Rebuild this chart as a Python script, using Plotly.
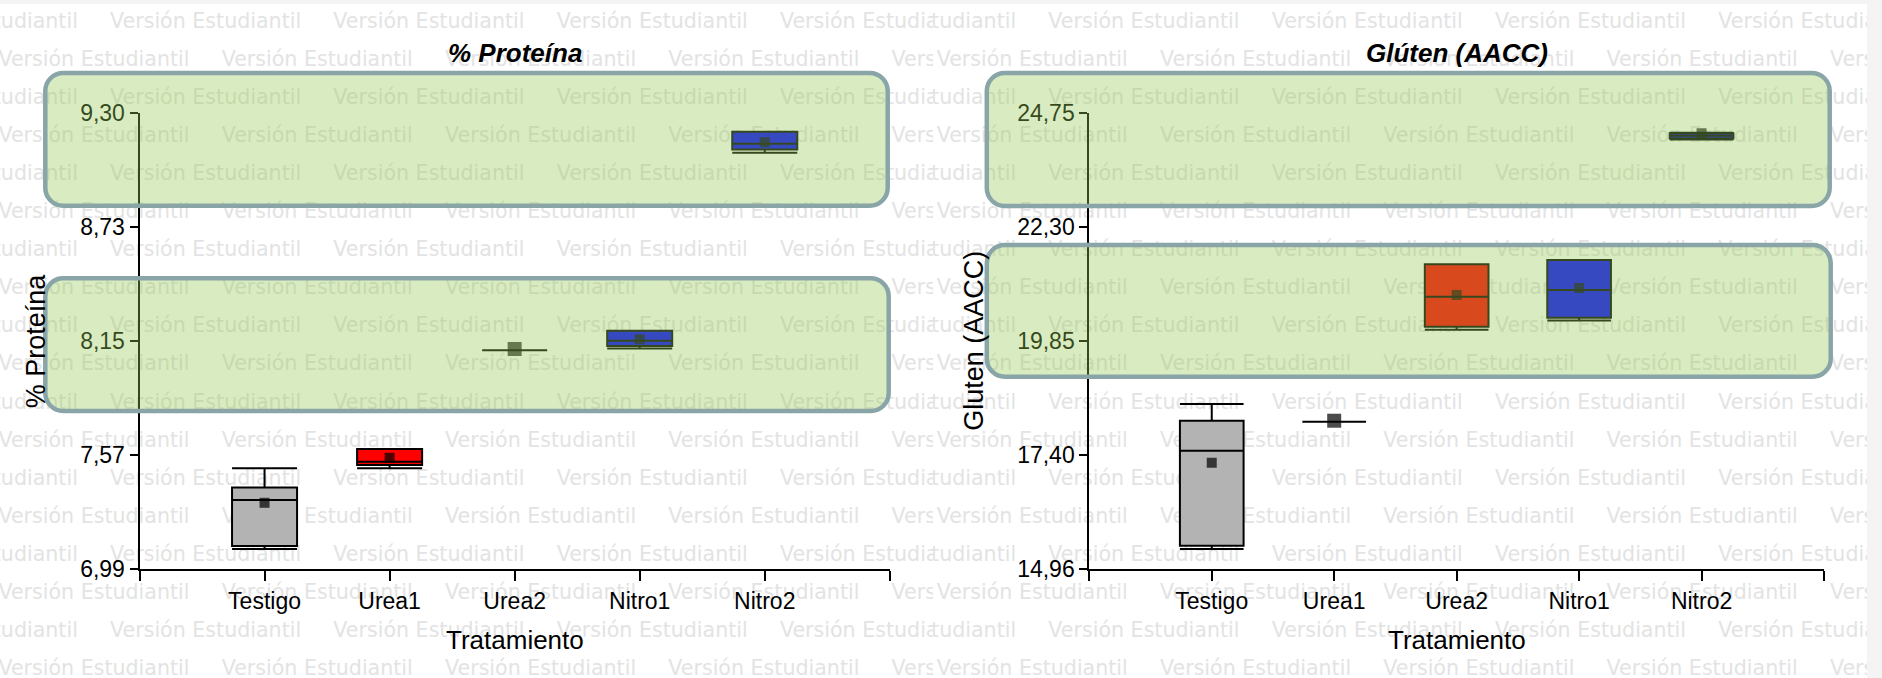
import plotly.graph_objects as go

W, H = 1882, 678

# ---------------- data ----------------
categories = ["Testigo", "Urea1", "Urea2", "Nitro1", "Nitro2"]
cat_pos = [1, 2, 3, 4, 5]
box_fill = ["#B3B3B3", "#FF0000", "#FF0000", "#0000FF", "#0000FF"]

# % Proteína
prot_min = [7.093, 7.502, 8.100, 8.108, 9.100]
prot_q1 = [7.108, 7.518, 8.100, 8.121, 9.116]
prot_med = [7.341, 7.535, 8.100, 8.148, 9.146]
prot_q3 = [7.405, 7.599, 8.100, 8.199, 9.207]
prot_max = [7.502, 7.599, 8.100, 8.199, 9.207]
prot_mean = [7.327, 7.555, 8.106, 8.155, 9.153]
prot_tickvals = [6.99, 7.5675, 8.145, 8.7225, 9.30]
prot_ticktext = ["6,99", "7,57", "8,15", "8,73", "9,30"]

# Gluten (AACC)
glu_min = [15.396, 18.13, 20.104, 20.30, 24.19]
glu_q1 = [15.467, 18.13, 20.169, 20.362, 24.21]
glu_med = [17.507, 18.13, 20.813, 20.957, 24.27]
glu_q3 = [18.15, 18.13, 21.508, 21.60, 24.32]
glu_max = [18.51, 18.13, 21.508, 21.60, 24.33]
glu_mean = [17.25, 18.15, 20.85, 21.00, 24.32]
glu_tickvals = [14.96, 17.4075, 19.855, 22.3025, 24.75]
glu_ticktext = ["14,96", "17,40", "19,85", "22,30", "24,75"]

x_tickvals = [0, 1, 2, 3, 4, 5, 6]
x_ticktext = [""] + categories + [""]

titles = ["% Proteína", "Glúten (AACC)"]
y_titles = ["% Proteína", "Gluten (AACC)"]
x_title = "Tratamiento"
WM_TEXT = "Versión Estudiantil"

# ---------------- helpers ----------------
def px(x):
    return x / W

def py(y):
    return 1 - y / H

SANS = "Liberation Sans, Arial, sans-serif"

fig = go.Figure()

# ---- watermark (drawn first, in its own hidden subplots) ----
wm_period = 223.3
wm_row0 = 20.0
wm_dy = 38.1
n_rows = 18

def wm_points(origin, x_lo, x_hi):
    xs, ys = [], []
    for k in range(n_rows):
        x = origin + (-1.6 if k % 2 else -113.25)
        while x < x_hi:
            if x + 200 > x_lo:
                xs.append(x)
                ys.append(wm_row0 + wm_dy * k + 2.4)
            x += wm_period
    return xs, ys

SEAM = 933
RIGHT_END = 1867
for origin, lo, hi, xa, ya in [(0, 0, SEAM, "x", "y"), (938.3, SEAM, RIGHT_END, "x2", "y2")]:
    xs, ys = wm_points(origin, lo, hi)
    fig.add_trace(go.Scatter(
        x=xs, y=ys, mode="text", text=[WM_TEXT] * len(xs),
        textposition="middle right",
        textfont=dict(family="DejaVu Sans", size=20.6, color="#E3E3E3"),
        cliponaxis=True, hoverinfo="skip", showlegend=False,
        xaxis=xa, yaxis=ya))

# ---- box plots ----
panels = [
    (prot_min, prot_q1, prot_med, prot_q3, prot_max, prot_mean, "x3", "y3"),
    (glu_min, glu_q1, glu_med, glu_q3, glu_max, glu_mean, "x4", "y4"),
]
for mn, q1, md, q3, mx, mean, xa, ya in panels:
    for i in range(len(categories)):
        fig.add_trace(go.Box(
            x=[cat_pos[i]], q1=[q1[i]], median=[md[i]], q3=[q3[i]],
            lowerfence=[mn[i]], upperfence=[mx[i]],
            fillcolor=box_fill[i], line=dict(color="black", width=2),
            width=0.52, whiskerwidth=1, boxpoints=False,
            hoverinfo="skip", showlegend=False, xaxis=xa, yaxis=ya))
    sizes = [14 if q1[i] == q3[i] else 10 for i in range(len(categories))]
    fig.add_trace(go.Scatter(
        x=cat_pos, y=mean, mode="markers",
        marker=dict(symbol="square", size=sizes, color="black", line=dict(width=0)),
        hoverinfo="skip", showlegend=False, xaxis=xa, yaxis=ya))

# ---- axes ----
tickfont = dict(family=SANS, size=23, color="black")
ydom = [py(569.3), py(113.3)]

def xaxis_cfg(x0, x1, anchor):
    return dict(domain=[px(x0), px(x1)], anchor=anchor, range=[0, 6],
                tickmode="array", tickvals=x_tickvals, ticktext=x_ticktext,
                showline=True, linecolor="black", linewidth=2,
                ticks="outside", ticklen=10, tickwidth=2, tickcolor="black",
                showgrid=False, zeroline=False, tickfont=tickfont, fixedrange=True)

def yaxis_cfg(anchor, rng, tv, tt):
    return dict(domain=ydom, anchor=anchor, range=rng,
                tickmode="array", tickvals=tv, ticktext=tt,
                showline=True, linecolor="black", linewidth=2,
                ticks="outside", ticklen=8, tickwidth=2, tickcolor="black",
                showgrid=False, zeroline=False, tickfont=tickfont, fixedrange=True)

hidden = dict(visible=False, showgrid=False, zeroline=False, fixedrange=True)

fig.update_layout(
    width=W, height=H, margin=dict(l=0, r=0, t=0, b=0),
    paper_bgcolor="#F4F4F4", plot_bgcolor="rgba(0,0,0,0)",
    font=dict(family=SANS, color="black"),
    showlegend=False, template="none",
    xaxis=dict(domain=[0, px(SEAM)], range=[0, SEAM], anchor="y", **hidden),
    yaxis=dict(domain=[0, 1], range=[H, 0], anchor="x", **hidden),
    xaxis2=dict(domain=[px(SEAM), px(RIGHT_END)], range=[SEAM, RIGHT_END], anchor="y2", **hidden),
    yaxis2=dict(domain=[0, 1], range=[H, 0], anchor="x2", **hidden),
    xaxis3=xaxis_cfg(139.5, 889.8, "y3"),
    yaxis3=yaxis_cfg("x3", [6.99, 9.30], prot_tickvals, prot_ticktext),
    xaxis4=xaxis_cfg(1089.3, 1824.0, "y4"),
    yaxis4=yaxis_cfg("x4", [14.96, 24.75], glu_tickvals, glu_ticktext),
)

# ---- background image area ----
shapes = [dict(type="rect", xref="paper", yref="paper", layer="below",
               x0=0, x1=px(RIGHT_END), y0=py(H), y1=py(4),
               fillcolor="white", line=dict(width=0))]

# ---- rounded highlight boxes ----
def rrect_path(x0, y0, x1, y1, r):
    k = 0.5523 * r
    pts = [
        ("M", [(x0 + r, y0)]),
        ("L", [(x1 - r, y0)]),
        ("C", [(x1 - r + k, y0), (x1, y0 + r - k), (x1, y0 + r)]),
        ("L", [(x1, y1 - r)]),
        ("C", [(x1, y1 - r + k), (x1 - r + k, y1), (x1 - r, y1)]),
        ("L", [(x0 + r, y1)]),
        ("C", [(x0 + r - k, y1), (x0, y1 - r + k), (x0, y1 - r)]),
        ("L", [(x0, y0 + r)]),
        ("C", [(x0, y0 + r - k), (x0 + r - k, y0), (x0 + r, y0)]),
    ]
    s = ""
    for cmd, ps in pts:
        s += cmd + " " + " ".join(f"{px(a):.6f},{py(b):.6f}" for a, b in ps) + " "
    return s + "Z"

highlight_boxes = [
    (45.3, 73.0, 887.7, 205.8),
    (45.3, 278.3, 888.7, 411.0),
    (986.8, 73.0, 1829.7, 206.0),
    (986.8, 245.0, 1830.7, 376.7),
]
for b in highlight_boxes:
    shapes.append(dict(type="path", xref="paper", yref="paper", layer="above",
                       path=rrect_path(*b, 18),
                       fillcolor="rgba(149,202,83,0.36)",
                       line=dict(color="#8AA5A8", width=4.5)))
fig.update_layout(shapes=shapes)

# ---- titles ----
ann = []
for cx, t in zip([514.6, 1456.7], titles):
    ann.append(dict(text=t, x=px(cx), y=py(53), xref="paper", yref="paper",
                    showarrow=False, xanchor="center", yanchor="middle",
                    font=dict(family=SANS, size=26, color="black", weight="bold", style="italic")))
for cx in [514.7, 1456.7]:
    ann.append(dict(text=x_title, x=px(cx), y=py(640), xref="paper", yref="paper",
                    showarrow=False, xanchor="center", yanchor="middle",
                    font=dict(family=SANS, size=26, color="black")))
for cx, t in zip([36, 974.5], y_titles):
    ann.append(dict(text=t, x=px(cx), y=py(341.3), xref="paper", yref="paper",
                    showarrow=False, xanchor="center", yanchor="middle", textangle=-90,
                    font=dict(family=SANS, size=27, color="black")))
fig.update_layout(annotations=ann)

fig.write_html("out.html",
               config={"displayModeBar": False},
               post_script="document.body.style.margin='0px';document.body.style.overflow='hidden';")
